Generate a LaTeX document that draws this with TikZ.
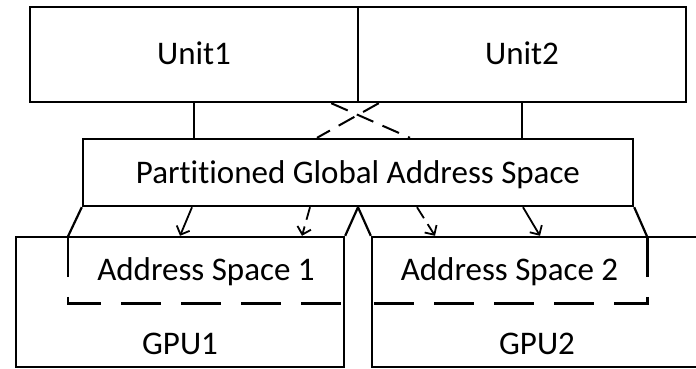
\documentclass[tikz,border=0pt]{standalone}
\usepackage{fontspec}
\setmainfont{Carlito}
\usetikzlibrary{arrows.meta,positioning}

\begin{document}
\begin{tikzpicture}[
    x=1pt, y=-1pt,
    font=\fontsize{33}{40}\selectfont,
    >={Straight Barb[length=7pt,width=14pt]},
    % --- node styles -------------------------------------------------
    box/.style={
        draw, line width=2.4pt, inner sep=0pt,
        text height=21pt, text depth=0pt
    },
    area/.style={inner sep=0pt, text height=21pt, text depth=0pt},
    lbl/.style={inner sep=0pt, text height=21pt, text depth=0pt},
    wire/.style={line width=2.2pt},
    link/.style={->, line width=1.8pt},
    dlink/.style={link, dash pattern=on 13pt off 7pt},
    cross/.style={line width=2pt, dash pattern=on 18pt off 10pt},
    part/.style={line width=2.6pt, dash pattern=on 40pt off 20pt}
]

\clip (0,0) rectangle (696,369);

% --- units --------------------------------------------------------
\node[box, minimum width=328pt, minimum height=95pt] (unit1) at (194,54.5) {Unit1};
\node[box, minimum width=328pt, minimum height=95pt] (unit2) at (522,54.5) {Unit2};

% --- global address space -----------------------------------------
\node[box, minimum width=550pt, minimum height=67pt] (pgas) at (358,172.5)
    {Part\kern0pt it\kern0pt ioned Global Address Space};

% --- gpus ---------------------------------------------------------
\node[box, minimum width=328pt, minimum height=130pt] (gpu1) at (180,302) {};
\node[box, minimum width=330pt, minimum height=130pt] (gpu2) at (537,302) {};
\node[lbl, above=14pt of gpu1.south] (gpu1lbl) {GPU1};
\node[lbl, above=14pt of gpu2.south] (gpu2lbl) {GPU2};

% --- address spaces inside the gpus -------------------------------
\node[area, minimum width=276pt, minimum height=66pt] (as1) at (206,270) {Address Space 1};
\node[area, minimum width=275pt, minimum height=66pt] (as2) at (509.5,270) {Address Space 2};

% --- units to pgas ------------------------------------------------
\draw[wire] (unit1.south) -- (unit1.south |- pgas.north);
\draw[wire] (unit2.south) -- (unit2.south |- pgas.north);
\draw[cross] ([xshift=-28pt]unit1.south east) -- ([xshift=52pt]pgas.north);
\draw[cross] ([xshift=22pt]unit2.south west) -- ([xshift=-41pt]pgas.north);

% --- pgas to gpus -------------------------------------------------
\draw[link]  ([xshift=-166pt]pgas.south) -- (gpu1.north);
\draw[dlink] ([xshift=-48pt]pgas.south) -- ([xshift=122pt]gpu1.north);
\draw[dlink] ([xshift=59pt]pgas.south) -- ([xshift=-102pt]gpu2.north);
\draw[link]  ([xshift=165pt]pgas.south) -- ([xshift=3pt]gpu2.north);

% --- partition outline --------------------------------------------
\draw[wire] (pgas.south west) -- (as1.north west);
\draw[wire] (pgas.south) -- (gpu1.north east);
\draw[wire] (pgas.south) -- (gpu2.north west);
\draw[wire] (pgas.south east) -- (as2.north east);
\draw[part] (as1.north west) -- (as1.south west) -- (as1.south east);
\draw[part] (as2.north east) -- (as2.south east) -- (as2.south west);

\end{tikzpicture}
\end{document}
